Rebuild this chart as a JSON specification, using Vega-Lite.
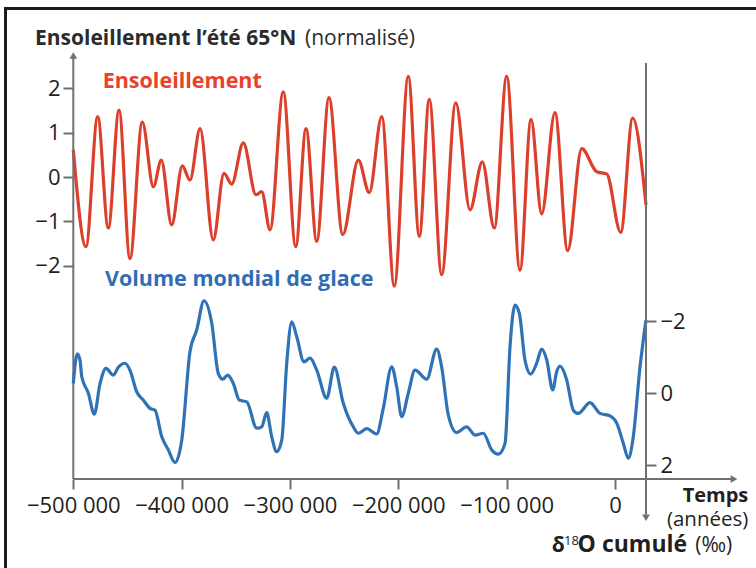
{
  "$schema": "https://vega.github.io/schema/vega-lite/v6.json",
  "width": 756,
  "height": 568,
  "padding": 0,
  "autosize": {"type": "none"},
  "background": "white",
  "config": {
    "view": {"stroke": null},
    "font": "Open Sans",
    "axis": {
      "domain": false,
      "grid": false,
      "labelFont": "Open Sans",
      "labelFontSize": 22,
      "labelColor": "#231f20",
      "tickColor": "#707070",
      "tickWidth": 2,
      "tickSize": 10,
      "labelFlush": false,
      "labelOverlap": false
    }
  },
  "datasets": {
    "one": [{}],
    "insol": [
      {"year": -500000, "v": 0.61}, {"year": -488300, "v": -1.57}, {"year": -477500, "v": 1.36},
      {"year": -467700, "v": -1.15}, {"year": -457800, "v": 1.51}, {"year": -447700, "v": -1.84},
      {"year": -436300, "v": 1.24}, {"year": -426100, "v": -0.22}, {"year": -418800, "v": 0.38},
      {"year": -409200, "v": -1.08}, {"year": -399400, "v": 0.25}, {"year": -392300, "v": -0.07},
      {"year": -383000, "v": 1.09}, {"year": -370800, "v": -1.42}, {"year": -360900, "v": 0.08},
      {"year": -353800, "v": -0.16}, {"year": -343100, "v": 0.77}, {"year": -331400, "v": -0.40},
      {"year": -326100, "v": -0.33}, {"year": -318400, "v": -1.19}, {"year": -306200, "v": 1.92},
      {"year": -294700, "v": -1.57}, {"year": -285200, "v": 1.09}, {"year": -275300, "v": -1.45},
      {"year": -264000, "v": 1.79}, {"year": -251300, "v": -1.30}, {"year": -236900, "v": 0.38},
      {"year": -226800, "v": -0.35}, {"year": -215300, "v": 1.36}, {"year": -203700, "v": -2.46},
      {"year": -190800, "v": 2.27}, {"year": -180600, "v": -1.34}, {"year": -171400, "v": 1.75},
      {"year": -160000, "v": -2.20}, {"year": -147000, "v": 1.67}, {"year": -133800, "v": -0.74},
      {"year": -122500, "v": 0.34}, {"year": -111400, "v": -1.15}, {"year": -100000, "v": 2.27},
      {"year": -87700, "v": -2.10}, {"year": -77500, "v": 1.30}, {"year": -67700, "v": -0.83},
      {"year": -55400, "v": 1.45}, {"year": -43700, "v": -1.66}, {"year": -30700, "v": 0.64},
      {"year": -16900, "v": 0.12}, {"year": -7700, "v": 0.07}, {"year": 5300, "v": -1.25},
      {"year": 16300, "v": 1.33}, {"year": 28600, "v": -0.63}
    ],
    "ice": [
      {"year": -500000, "d": -0.27}, {"year": -496300, "d": -1.09}, {"year": -493800, "d": -0.92},
      {"year": -492200, "d": -0.46}, {"year": -486100, "d": 0.0}, {"year": -480600, "d": 0.58},
      {"year": -475300, "d": -0.27}, {"year": -469800, "d": -0.69}, {"year": -463100, "d": -0.50},
      {"year": -458400, "d": -0.72}, {"year": -452300, "d": -0.83}, {"year": -447700, "d": -0.64},
      {"year": -441500, "d": -0.04}, {"year": -435400, "d": 0.19}, {"year": -429200, "d": 0.42},
      {"year": -424600, "d": 0.47}, {"year": -418400, "d": 1.20}, {"year": -412300, "d": 1.57},
      {"year": -406100, "d": 1.92}, {"year": -399900, "d": 1.30}, {"year": -392300, "d": -1.15},
      {"year": -386100, "d": -1.75}, {"year": -379400, "d": -2.56}, {"year": -372200, "d": -1.94},
      {"year": -366200, "d": -0.55}, {"year": -362100, "d": -0.39}, {"year": -357500, "d": -0.50},
      {"year": -352300, "d": -0.27}, {"year": -346800, "d": 0.19}, {"year": -339900, "d": 0.24},
      {"year": -330700, "d": 0.97}, {"year": -326100, "d": 0.93}, {"year": -321500, "d": 0.54},
      {"year": -316900, "d": 1.20}, {"year": -312300, "d": 1.62}, {"year": -307600, "d": 1.30},
      {"year": -303000, "d": -0.83}, {"year": -298400, "d": -1.98}, {"year": -293800, "d": -1.57},
      {"year": -287100, "d": -0.87}, {"year": -281500, "d": -0.97}, {"year": -275300, "d": -0.64},
      {"year": -266100, "d": 0.14}, {"year": -259100, "d": -0.72}, {"year": -250800, "d": 0.28},
      {"year": -241600, "d": 0.93}, {"year": -236900, "d": 1.11}, {"year": -229200, "d": 0.98},
      {"year": -220000, "d": 1.13}, {"year": -213900, "d": 0.42}, {"year": -206100, "d": -0.73},
      {"year": -201500, "d": -0.18}, {"year": -196900, "d": 0.65}, {"year": -190800, "d": 0.0},
      {"year": -184600, "d": -0.64}, {"year": -173800, "d": -0.39}, {"year": -164600, "d": -1.22},
      {"year": -160000, "d": -0.73}, {"year": -153900, "d": 0.60}, {"year": -146100, "d": 1.09},
      {"year": -136900, "d": 0.93}, {"year": -129200, "d": 1.16}, {"year": -121600, "d": 1.11},
      {"year": -113800, "d": 1.57}, {"year": -107700, "d": 1.69}, {"year": -101500, "d": 1.39},
      {"year": -96900, "d": -1.29}, {"year": -92300, "d": -2.44}, {"year": -88300, "d": -2.21},
      {"year": -83100, "d": -0.92}, {"year": -77800, "d": -0.53}, {"year": -72300, "d": -0.83},
      {"year": -67700, "d": -1.22}, {"year": -63000, "d": -0.92}, {"year": -57500, "d": -0.09},
      {"year": -53800, "d": -0.60}, {"year": -50800, "d": -0.75}, {"year": -44600, "d": -0.37},
      {"year": -38500, "d": 0.47}, {"year": -33900, "d": 0.56}, {"year": -23100, "d": 0.26},
      {"year": -13800, "d": 0.56}, {"year": -4600, "d": 0.63}, {"year": 1600, "d": 0.83},
      {"year": 7700, "d": 1.39}, {"year": 12300, "d": 1.80}, {"year": 16900, "d": 1.20},
      {"year": 23100, "d": -0.73}, {"year": 28600, "d": -2.03}
    ]
  },
  "layer": [
    {
      "layer": [
        {
          "data": {"name": "insol"},
          "mark": {"type": "line", "color": "#dc3f2b", "strokeWidth": 3.2, "interpolate": "monotone"},
          "encoding": {
            "x": {
              "field": "year", "type": "quantitative",
              "scale": {"domain": [-567657, 130146], "nice": false, "zero": false},
              "axis": {
                "orient": "bottom", "offset": -89, "title": null,
                "values": [-500000, -400000, -300000, -200000, -100000, 0],
                "labelPadding": 6,
                "labelExpr": "datum.value == 0 ? '0' : '−' + format(-datum.value / 1000, 'd') + ' 000'"
              }
            },
            "y": {
              "field": "v", "type": "quantitative",
              "scale": {"domain": [-8.816, 3.991], "nice": false, "zero": false},
              "axis": {"orient": "left", "offset": -73, "title": null, "values": [-2, -1, 0, 1, 2], "labelPadding": 3}
            }
          }
        },
        {
          "data": {"name": "one"},
          "mark": {"type": "rule", "color": "#1c1c1c", "strokeWidth": 3},
          "encoding": {"x": {"datum": -563960}, "x2": {"datum": 130146}, "y": {"datum": 3.799}}
        },
        {
          "data": {"name": "one"},
          "mark": {"type": "rule", "color": "#1c1c1c", "strokeWidth": 3},
          "encoding": {"x": {"datum": -562580}, "y": {"datum": 3.833}, "y2": {"datum": -8.816}}
        },
        {
          "data": {"name": "one"},
          "mark": {"type": "rule", "color": "#707070", "strokeWidth": 2},
          "encoding": {"x": {"datum": -500000}, "y": {"datum": -6.81}, "y2": {"datum": 2.72}}
        },
        {
          "data": {"name": "one"},
          "mark": {"type": "point", "shape": "triangle-up", "filled": true, "size": 60, "color": "#707070", "opacity": 1},
          "encoding": {"x": {"datum": -500000}, "y": {"datum": 2.74}}
        },
        {
          "data": {"name": "one"},
          "mark": {"type": "rule", "color": "#707070", "strokeWidth": 2},
          "encoding": {"x": {"datum": -500000}, "x2": {"datum": 107000}, "y": {"datum": -6.81}}
        },
        {
          "data": {"name": "one"},
          "mark": {"type": "point", "shape": "triangle-right", "filled": true, "size": 60, "color": "#707070", "opacity": 1},
          "encoding": {"x": {"datum": 109840}, "y": {"datum": -6.81}}
        },
        {
          "data": {"name": "one"},
          "mark": {"type": "text", "text": "Ensoleillement l’été 65°N", "font": "Open Sans", "fontSize": 21, "fontWeight": "bold", "color": "#2b2b2b", "align": "left", "baseline": "alphabetic"},
          "encoding": {"x": {"datum": -535352}, "y": {"datum": 2.976}}
        },
        {
          "data": {"name": "one"},
          "mark": {"type": "text", "text": "(normalisé)", "font": "Open Sans", "fontSize": 21, "color": "#2b2b2b", "align": "left", "baseline": "alphabetic"},
          "encoding": {"x": {"datum": -286136}, "y": {"datum": 2.976}}
        },
        {
          "data": {"name": "one"},
          "mark": {"type": "text", "text": "Ensoleillement", "font": "Open Sans", "fontSize": 21.5, "fontWeight": "bold", "color": "#e8412c", "align": "left", "baseline": "alphabetic"},
          "encoding": {"x": {"datum": -472860}, "y": {"datum": 2.0}}
        },
        {
          "data": {"name": "one"},
          "mark": {"type": "text", "text": "Volume mondial de glace", "font": "Open Sans", "fontSize": 21.5, "fontWeight": "bold", "color": "#2f6eb5", "align": "left", "baseline": "alphabetic"},
          "encoding": {"x": {"datum": -470740}, "y": {"datum": -2.458}}
        },
        {
          "data": {"name": "one"},
          "mark": {"type": "text", "text": "Temps", "font": "Open Sans", "fontSize": 20, "fontWeight": "bold", "color": "#231f20", "align": "right", "baseline": "alphabetic"},
          "encoding": {"x": {"datum": 123040}, "y": {"datum": -7.33}}
        },
        {
          "data": {"name": "one"},
          "mark": {"type": "text", "text": "(années)", "font": "Open Sans", "fontSize": 20.5, "color": "#231f20", "align": "right", "baseline": "alphabetic"},
          "encoding": {"x": {"datum": 123040}, "y": {"datum": -7.87}}
        },
        {
          "data": {"name": "one"},
          "mark": {"type": "text", "text": "δ", "font": "Open Sans", "fontSize": 21, "fontWeight": "bold", "color": "#231f20", "align": "left", "baseline": "alphabetic"},
          "encoding": {"x": {"datum": -58400}, "y": {"datum": -8.455}}
        },
        {
          "data": {"name": "one"},
          "mark": {"type": "text", "text": "18", "font": "Open Sans", "fontSize": 13, "color": "#231f20", "align": "left", "baseline": "alphabetic"},
          "encoding": {"x": {"datum": -47000}, "y": {"datum": -8.30}}
        },
        {
          "data": {"name": "one"},
          "mark": {"type": "text", "text": "O cumulé", "font": "Open Sans", "fontSize": 23, "fontWeight": "bold", "color": "#231f20", "align": "left", "baseline": "alphabetic"},
          "encoding": {"x": {"datum": -34500}, "y": {"datum": -8.455}}
        },
        {
          "data": {"name": "one"},
          "mark": {"type": "text", "text": "(‰)", "font": "Open Sans", "fontSize": 21, "color": "#231f20", "align": "right", "baseline": "alphabetic"},
          "encoding": {"x": {"datum": 108270}, "y": {"datum": -8.455}}
        }
      ]
    },
    {
      "layer": [
        {
          "data": {"name": "ice"},
          "mark": {"type": "line", "color": "#2f72b6", "strokeWidth": 3.2, "interpolate": "monotone"},
          "encoding": {
            "x": {"field": "year", "type": "quantitative"},
            "y": {
              "field": "d", "type": "quantitative",
              "scale": {"domain": [-10.892, 4.842], "reverse": true, "nice": false, "zero": false},
              "axis": {"orient": "right", "offset": -110, "title": null, "values": [-2, 0, 2], "labelPadding": 4}
            }
          }
        },
        {
          "data": {"name": "one"},
          "mark": {"type": "rule", "color": "#707070", "strokeWidth": 2},
          "encoding": {"x": {"datum": 28614}, "y": {"datum": -9.147}, "y2": {"datum": 3.37}}
        },
        {
          "data": {"name": "one"},
          "mark": {"type": "point", "shape": "triangle-down", "filled": true, "size": 60, "color": "#707070", "opacity": 1},
          "encoding": {"x": {"datum": 28614}, "y": {"datum": 3.45}}
        }
      ]
    }
  ],
  "resolve": {"scale": {"y": "independent"}, "axis": {"y": "independent"}}
}
